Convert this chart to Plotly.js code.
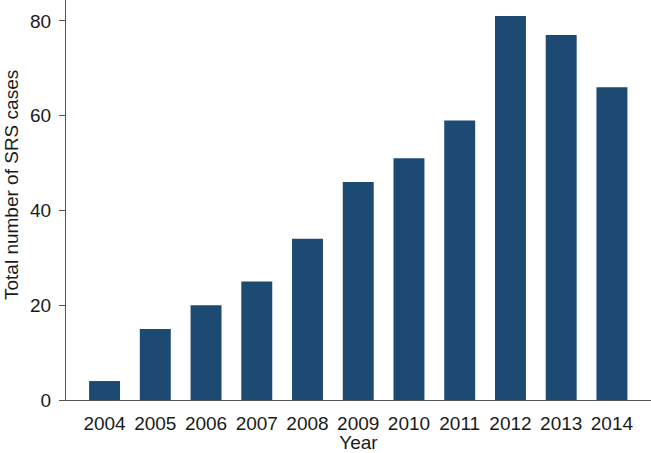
<!DOCTYPE html>
<html>
<head>
<meta charset="utf-8">
<script src="https://cdn.plot.ly/plotly-3.0.1.min.js"></script>
<style>
  html, body { margin: 0; padding: 0; background: #fff; }
  #chart { width: 651px; height: 453px; }
</style>
</head>
<body>
<div id="chart"></div>
<script>
const years = ['2004', '2005', '2006', '2007', '2008', '2009', '2010', '2011', '2012', '2013', '2014'];
const cases = [4, 15, 20, 25, 34, 46, 51, 59, 81, 77, 66];
const yTicks = [0, 20, 40, 60, 80];
const yTitle = 'Total number of SRS cases';

const font = { family: 'Liberation Sans, Arial, sans-serif', size: 19, color: '#1a1a1a' };

Plotly.newPlot('chart', [{
  x: years,
  y: cases,
  type: 'bar',
  width: 0.61,
  marker: { color: '#1c4a72' },
  hoverinfo: 'x+y',
}], {
  width: 651,
  height: 453,
  margin: { l: 66, r: 0, t: 0, b: 53 },
  paper_bgcolor: '#fff',
  plot_bgcolor: '#fff',
  font: font,
  showlegend: false,
  xaxis: {
    type: 'category',
    range: [-0.76, 10.77],
    showline: true,
    linecolor: '#555',
    linewidth: 1,
    ticks: '',
    showgrid: false,
    zeroline: false,
    ticklabelstandoff: 6,
    title: { text: 'Year', font: font, standoff: 2 },
    tickfont: font,
  },
  yaxis: {
    range: [0, 84.4],
    tickvals: yTicks,
    ticks: 'outside',
    ticklen: 6,
    tickcolor: '#555',
    showline: true,
    linecolor: '#555',
    linewidth: 1,
    showgrid: false,
    zeroline: false,
    ticklabelstandoff: 4,
    tickfont: font,
  },
  annotations: [{
    text: yTitle,
    xref: 'paper', yref: 'paper',
    x: -0.094, y: 0.5375,
    xanchor: 'center', yanchor: 'middle',
    textangle: -90,
    showarrow: false,
    font: font,
  }],
}, { displayModeBar: false, staticPlot: true });
</script>
</body>
</html>
